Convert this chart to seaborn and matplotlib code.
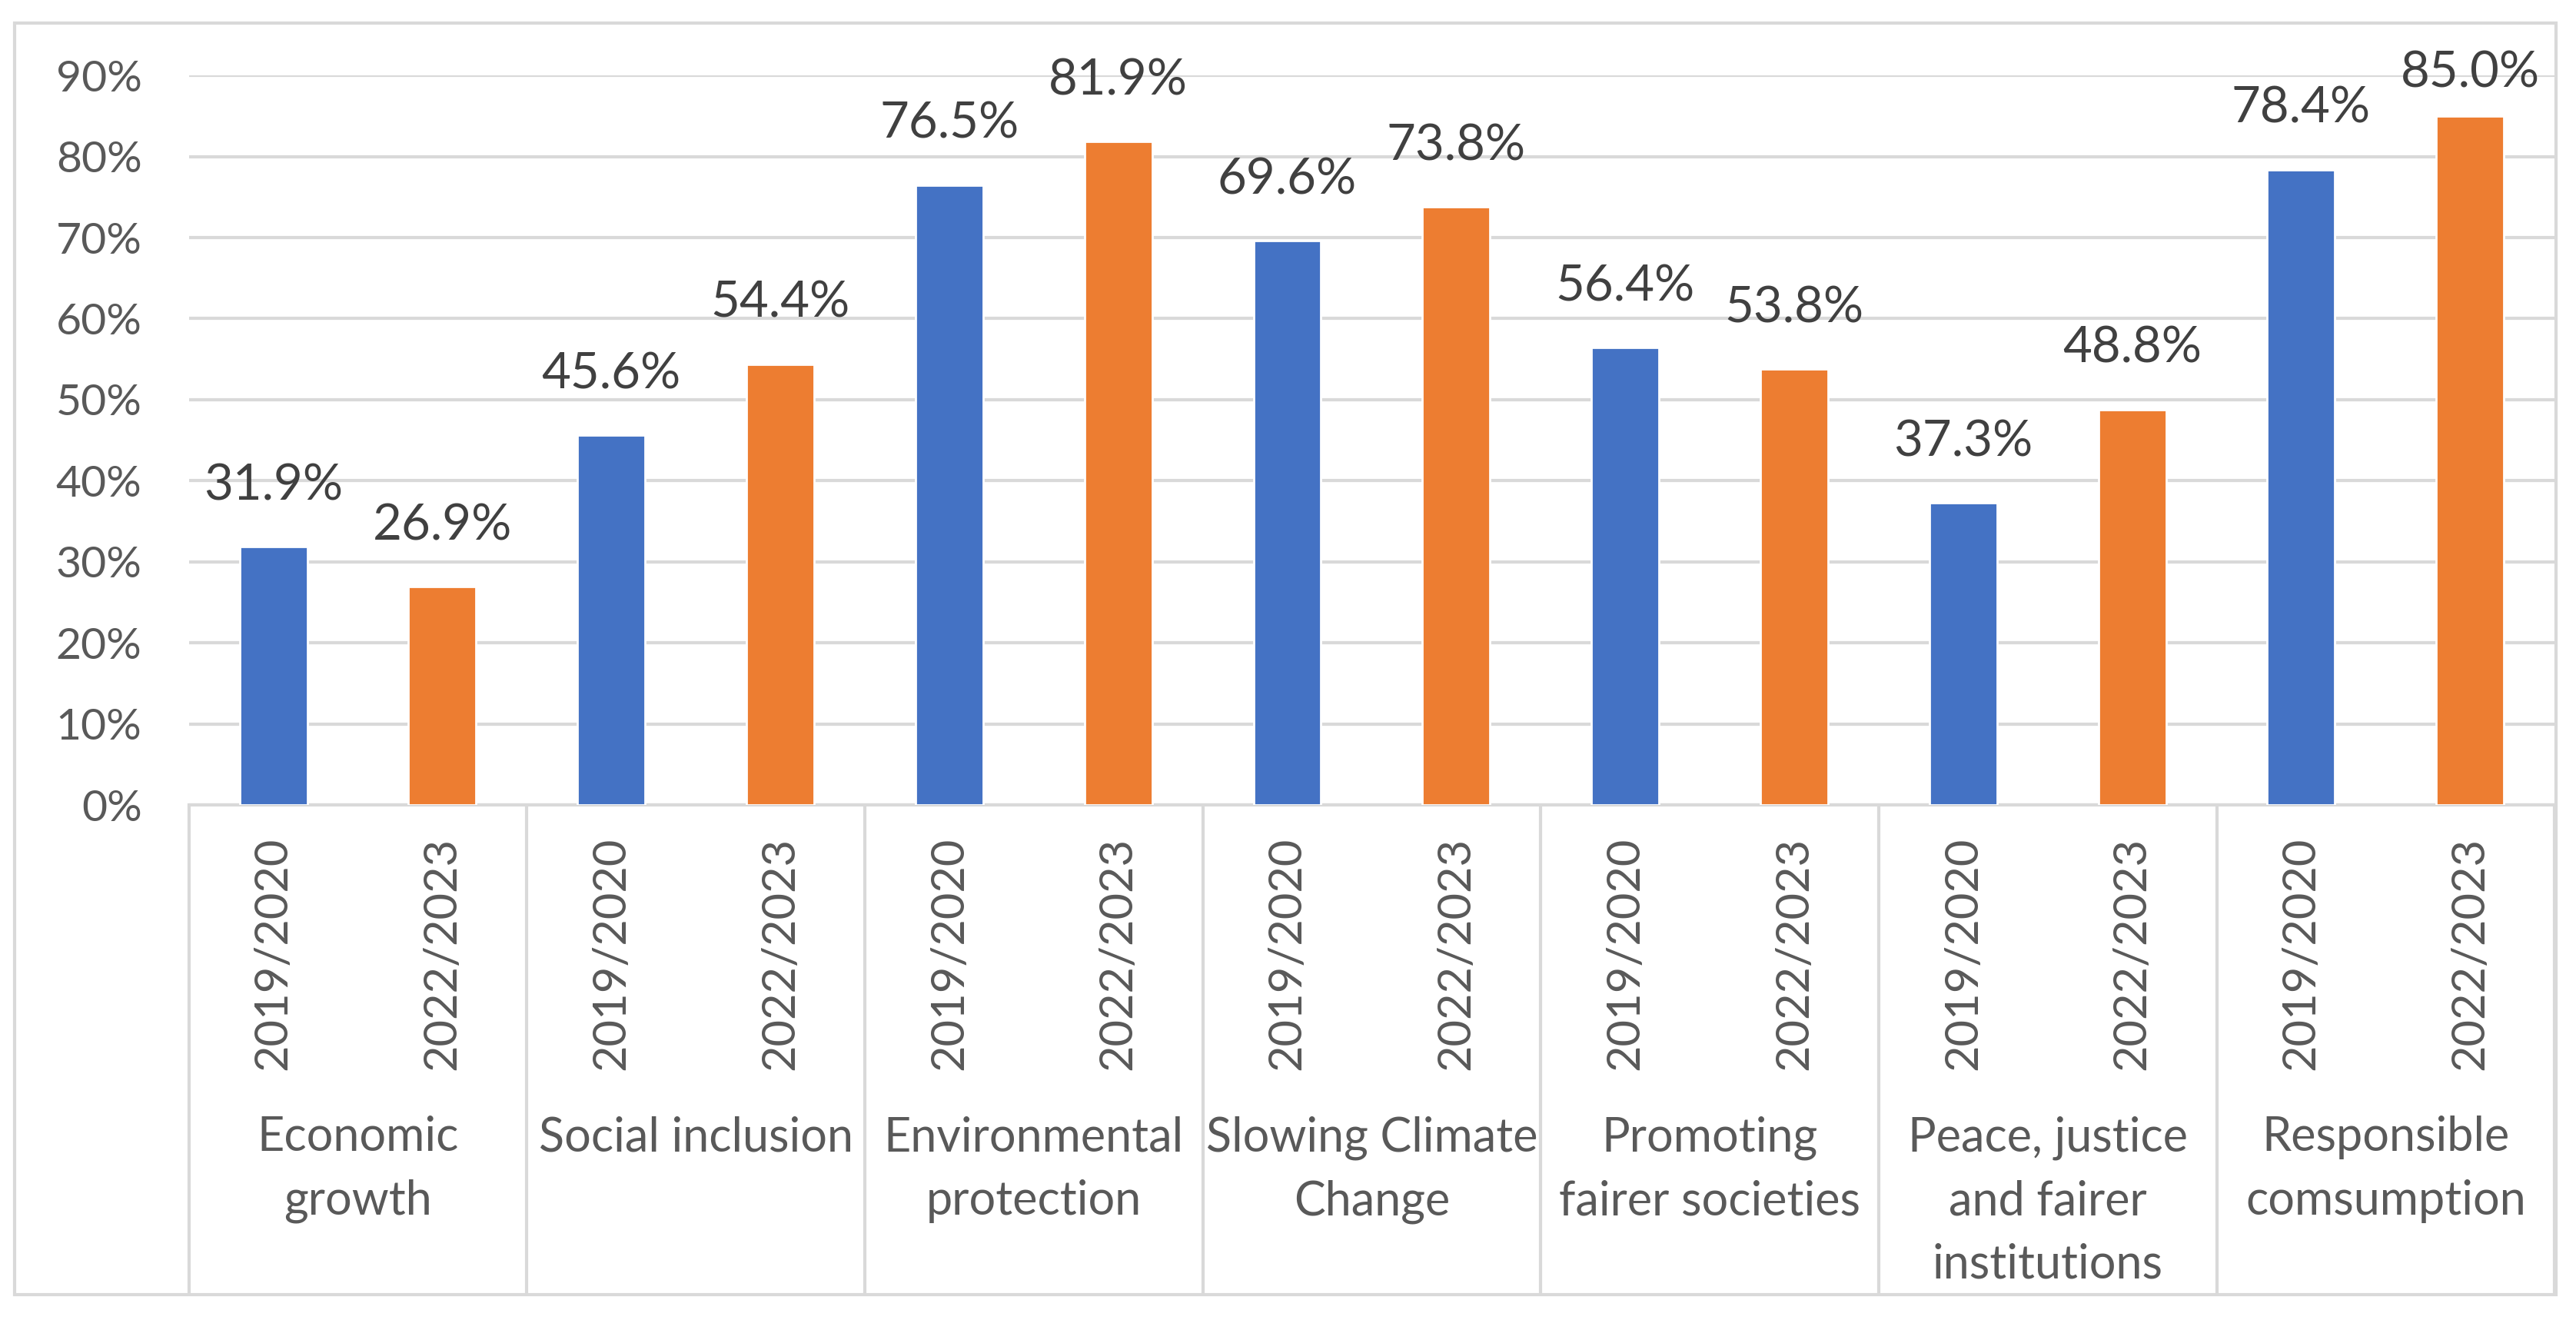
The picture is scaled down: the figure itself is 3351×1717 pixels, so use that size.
import matplotlib
matplotlib.use("Agg")
import matplotlib.pyplot as plt
import matplotlib.transforms as mtransforms
from matplotlib.patches import Rectangle
from matplotlib.ticker import FuncFormatter
import seaborn as sns
import pandas as pd

categories = ["Economic\ngrowth", "Social inclusion", "Environmental\nprotection",
              "Slowing Climate\nChange", "Promoting\nfairer societies",
              "Peace, justice\nand fairer\ninstitutions", "Responsible\ncomsumption"]
periods = ["2019/2020", "2022/2023"]
values_2019 = [31.9, 45.6, 76.5, 69.6, 56.4, 37.3, 78.4]
values_2022 = [26.9, 54.4, 81.9, 73.8, 53.8, 48.8, 85.0]
yticks = [0, 10, 20, 30, 40, 50, 60, 70, 80, 90]

BLUE = "#4472C4"
ORANGE = "#ED7D31"
GRID = "#D9D9D9"
TXT = "#595959"
LBL = "#404040"
FS_Y = 20.5
FS_YEAR = 21.5
FS_CAT = 22
FS_VAL = 23.5

sns.set_theme(style="white")
plt.rcParams['font.family'] = ['Lato', 'DejaVu Sans']

df = pd.DataFrame({
    "category": categories * 2,
    "period": [periods[0]] * len(categories) + [periods[1]] * len(categories),
    "value": values_2019 + values_2022,
})

fig = plt.figure(figsize=(3351 / 200, 1717 / 200), dpi=200)
ax = fig.add_axes([0.0733, 0.3902, 0.9917 - 0.0733, 0.9428 - 0.3902])

sns.barplot(data=df, x="category", y="value", hue="period", order=categories,
            hue_order=periods, palette=[BLUE, ORANGE], width=1.0, gap=0.6,
            saturation=1, legend=False, ax=ax, zorder=3)

ax.set_xlim(-0.5, len(categories) - 0.5)
ax.set_ylim(0, 90)
ax.set_yticks(yticks)
ax.yaxis.set_major_formatter(FuncFormatter(lambda v, p: f"{v:.0f}%"))
ax.grid(axis="y", color=GRID, linewidth=1.5, zorder=0)
ax.set_axisbelow(True)
for s in ["top", "right", "left"]:
    ax.spines[s].set_visible(False)
ax.spines["bottom"].set_color(GRID)
ax.spines["bottom"].set_linewidth(1.5)
ax.set_xlabel("")
ax.set_ylabel("")
ax.tick_params(axis="y", length=0, pad=22, labelsize=FS_Y, labelcolor=TXT)

# Year tick labels under each bar
bars = [b for b in ax.patches if b.get_height() > 0]
centers = [b.get_x() + b.get_width() / 2 for b in bars]
years = [periods[0]] * len(categories) + [periods[1]] * len(categories)
ax.set_xticks(centers)
ax.set_xticklabels(years, rotation=90, va="top", ha="center")
ax.tick_params(axis="x", length=0, pad=15, labelsize=FS_YEAR, labelcolor=TXT)

# Value labels
for b in bars:
    h = b.get_height()
    ax.text(b.get_x() + b.get_width() / 2, min(h + 7.5, 90.3), f"{h:.1f}%",
            ha="center", va="center", fontsize=FS_VAL, color=LBL, clip_on=False)

# Category labels and separators
trans = mtransforms.blended_transform_factory(ax.transData, ax.transAxes)
for i, c in enumerate(categories):
    ax.text(i, -0.426, c, transform=trans, ha="center", va="top", fontsize=FS_CAT,
            color=TXT, linespacing=1.55)
bottom_axes = (0.0193 - 0.3902) / (0.9428 - 0.3902)
for k in range(len(categories) + 1):
    ax.plot([k - 0.5, k - 0.5], [0, bottom_axes], transform=trans, color=GRID,
            linewidth=1.5, clip_on=False, zorder=1)

# Outer chart border
fig.patches.append(Rectangle((0.0057, 0.0193), 0.9923 - 0.0057, 0.9826 - 0.0193,
                             transform=fig.transFigure, fill=False,
                             edgecolor=GRID, linewidth=1.5))

fig.savefig("out.png", dpi=200, facecolor="white")
